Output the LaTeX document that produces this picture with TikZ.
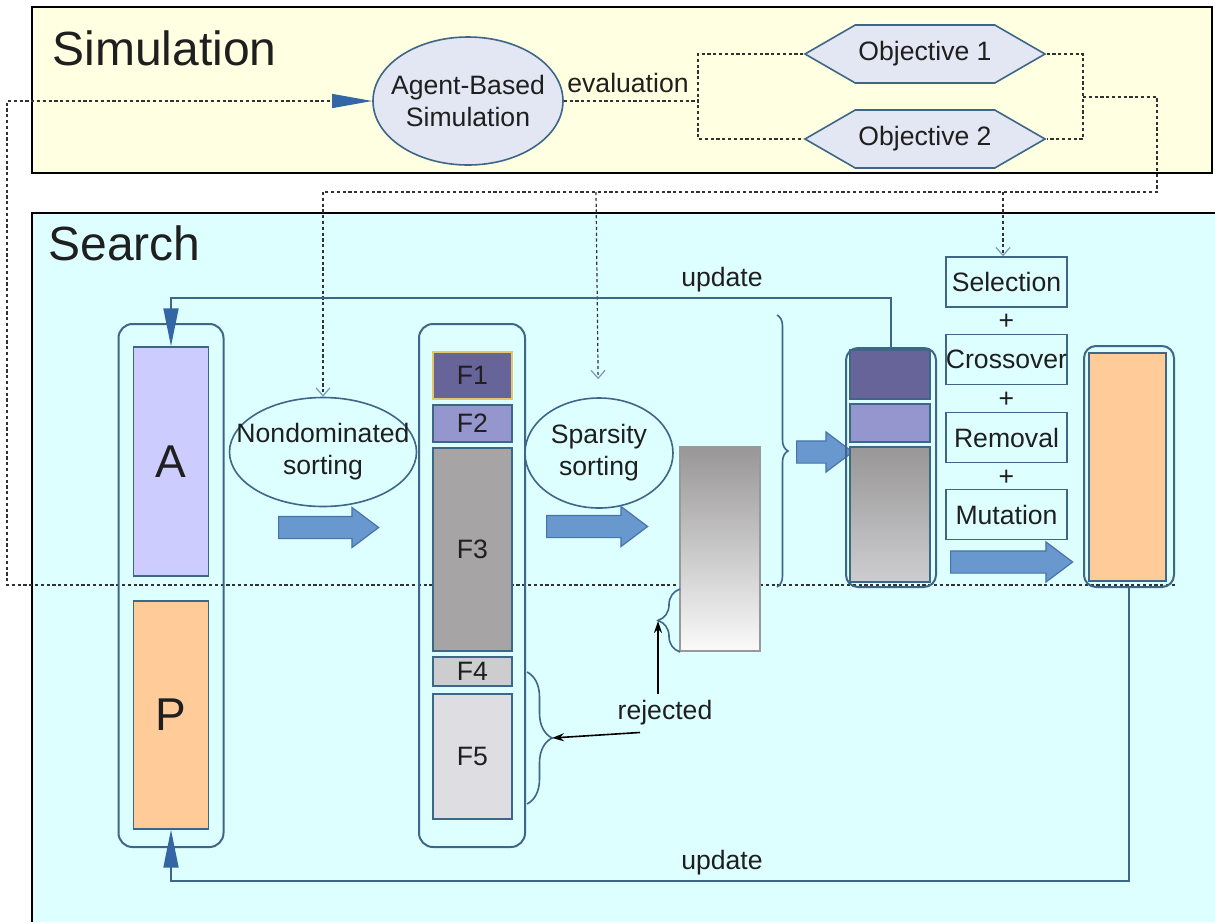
\documentclass[tikz,border=0pt]{standalone}
\usepackage{fontspec}
\setmainfont{Liberation Sans}
\usetikzlibrary{arrows.meta}
\usetikzlibrary{shapes.geometric}
\usetikzlibrary{shapes.symbols}
\usetikzlibrary{shapes.arrows}
\usetikzlibrary{decorations.pathreplacing}

\definecolor{simbg}{RGB}{255,255,225}
\definecolor{searchbg}{RGB}{222,255,255}
\definecolor{edge}{RGB}{62,102,135}
\definecolor{tipblue}{RGB}{52,101,164}
\definecolor{blockblue}{RGB}{104,152,206}
\definecolor{blockedge}{RGB}{70,115,170}
\definecolor{ovalfill}{RGB}{226,231,243}
\definecolor{frontA}{RGB}{102,100,153}
\definecolor{frontB}{RGB}{150,150,206}
\definecolor{frontC}{RGB}{166,164,164}
\definecolor{frontD}{RGB}{205,205,208}
\definecolor{frontE}{RGB}{222,222,226}
\definecolor{lavender}{RGB}{204,204,255}
\definecolor{peach}{RGB}{255,204,153}
\definecolor{goldedge}{RGB}{228,200,110}
\definecolor{gradtop}{RGB}{152,150,150}
\definecolor{gradbot}{RGB}{250,250,250}
\definecolor{dashgray}{RGB}{50,50,50}
\definecolor{barbcol}{RGB}{120,155,190}

\begin{document}
\begin{tikzpicture}[x=0.5pt,y=-0.5pt,
    every node/.style={font=\fontsize{13.3}{16}\selectfont, text=black!88},
    dims/.style 2 args={minimum width=#1*0.5pt, minimum height=#2*0.5pt},
    title/.style={font=\fontsize{24}{28}\selectfont, anchor=base west, inner sep=0pt},
    oval/.style={ellipse, draw=edge, fill=ovalfill, line width=0.8pt, inner sep=0pt, align=center},
    hexa/.style={signal, signal to=west and east, signal pointer angle=60, draw=edge, fill=ovalfill, line width=0.8pt, inner sep=0pt},
    sortoval/.style={ellipse, draw=edge, fill=searchbg, line width=0.8pt, inner sep=0pt, align=center},
    column/.style={rectangle, draw=edge, line width=1pt, rounded corners=7pt, inner sep=0pt},
    cell/.style={rectangle, draw=edge, line width=0.7pt, inner sep=0pt},
    letter/.style={font=\fontsize{23}{26}\selectfont},
    opbox/.style={rectangle, draw=edge, fill=searchbg, line width=0.7pt, inner sep=0pt, dims={121}{50}},
    blockarrow/.style={single arrow, draw=blockedge, fill=blockblue, line width=0.6pt, inner xsep=0pt, inner ysep=5.25pt, single arrow head extend=4.5pt, single arrow tip angle=74, anchor=tail},
    dashlink/.style={draw=dashgray, line width=0.6pt, dash pattern=on 1.6pt off 1.3pt},
    vtip/.style={-{Straight Barb[length=4pt, width=7pt, color=barbcol]}},
    bigtip/.style={-{Triangle[length=19pt, width=7.5pt, color=tipblue]}},
    updline/.style={draw=edge, line width=0.9pt},
    curly/.style={decorate, draw=edge, line width=0.8pt, decoration={brace, amplitude=#1}},
    rejarrow/.style={draw=black, line width=0.8pt, -{Stealth[length=6pt, width=4pt]}}]

    \useasboundingbox[fill=white] (0,0) rectangle (1215,922);
    \draw[line width=1pt, fill=simbg] (32,7) rectangle (1212,173);
    \fill[searchbg] (32,213) rectangle (1215,922);
    \draw[line width=1pt] (1215,213) -- (32,213) -- (32,922);
    \node[title] (simtitle) at (52,65) {Simulation};
    \node[title] (searchtitle) at (48,260) {Search};

    \node[oval, inner xsep=-5pt, dims={190}{128}] (agent) at (468,101) {Agent-Based\\Simulation};
    \node (evallabel) at (628,83) {evaluation};
    \node[hexa, dims={240}{58}] (obj1) at (925,54) {Objective 1};
    \node[hexa, dims={240}{58}] (obj2) at (925,139) {Objective 2};

    \coordinate (evalsplit) at (698,101);
    \coordinate (objjoin) at (1083,97);
    \coordinate (objturn) at (1157,97);
    \coordinate (busend) at (1157,192);
    \coordinate (busleft) at (323,192);
    \coordinate (busmid) at (596,192);
    \coordinate (busright) at (1003,192);
    \coordinate (feedstart) at (1175,585);
    \coordinate (feedcorner) at (7,101);
    \draw[dashlink] (agent.east) -- (evalsplit);
    \draw[dashlink] (obj1.west) -| (evalsplit) |- (obj2.west);
    \draw[dashlink] (obj1.east) -| (objjoin) |- (obj2.east);
    \draw[dashlink] (objjoin) -- (objturn) -- (busend) -- (busleft);
    \draw[dashlink, -{Triangle[length=20pt, width=7pt, color=tipblue]}] (feedstart) -| (feedcorner) -- (agent.west);

    \node[column, dims={105}{523}] (apcol) at (171,585.5) {};
    \node[cell, fill=lavender, dims={75}{229}, letter] (Abox) at (171,461.5) {A};
    \node[cell, fill=peach, dims={75}{228}, letter] (Pbox) at (171,715) {P};

    \node[sortoval, inner xsep=-10.5pt, dims={187}{109}] (nondom) at (323,452) {Nondominated\\sorting};
    \node[blockarrow, minimum height=50pt] (arrow1) at (278,527.5) {};

    \node[column, dims={106}{523}] (midcol) at (472,585.5) {};
    \node[cell, draw=goldedge, fill=frontA, dims={79}{47}] (F1) at (472.5,375.5) {F1};
    \node[cell, fill=frontB, dims={79}{37}] (F2) at (472.5,423.5) {F2};
    \node[cell, fill=frontC, dims={79}{203}] (F3) at (472.5,549.5) {F3};
    \node[cell, fill=frontD, dims={79}{29}] (F4) at (472.5,671.5) {F4};
    \node[cell, fill=frontE, dims={79}{125}] (F5) at (472.5,756.5) {F5};

    \node[sortoval, dims={148}{110}] (sparse) at (599,453) {Sparsity\\sorting};
    \node[blockarrow, minimum height=50.5pt] (arrow2) at (546,526.5) {};
    \node[cell, draw=gray!80, top color=gradtop, bottom color=gradbot, dims={80}{204}] (ranked) at (720,549) {};

    \draw[curly=5.5pt] (777,315) -- (777,587);
    \node[blockarrow, minimum height=28pt] (arrow3) at (796,452) {};

    \node[column, rounded corners=6pt, dims={90}{239}] (nextcol) at (891,467.5) {};
    \node[cell, fill=frontA, dims={80}{49}] (nextA) at (890,374.5) {};
    \node[cell, fill=frontB, dims={80}{38}] (nextB) at (890,423) {};
    \node[cell, top color=gradtop, bottom color=frontD, dims={80}{135}] (nextC) at (890,514.5) {};

    \node[opbox] (sel) at (1006.5,282) {Selection};
    \node (plus1) at (1006.5,322) {+};
    \node[opbox] (cross) at (1006.5,359.5) {Crossover};
    \node (plus2) at (1006.5,400) {+};
    \node[opbox] (remov) at (1006.5,437.5) {Removal};
    \node (plus3) at (1006.5,478) {+};
    \node[opbox] (mutat) at (1006.5,514.5) {Mutation};
    \node[blockarrow, minimum height=61pt] (arrow4) at (950,562) {};

    \node[column, rounded corners=6pt, dims={90}{241}] (newcol) at (1129,466.5) {};
    \node[cell, fill=peach, dims={77}{228}] (newP) at (1127.5,467) {};

    \draw[dashlink, vtip] (busleft) -- (nondom);
    \draw[dashlink, vtip, shorten >=9pt] (busmid) -- (sparse);
    \draw[dashlink, vtip] (busright) -- (busright |- sel.north);

    \coordinate (updtop) at (171,298);
    \coordinate (updbot) at (171,881);
    \draw[updline, bigtip] (nextcol.north) |- (updtop) -- (Abox.north);
    \draw[updline, bigtip] (newcol.south) |- (updbot) -- (Pbox.south);
    \node (updlabeltop) at (722,280) {update};
    \node (updlabelbot) at (722,863) {update};

    \draw[curly=12.5pt] (527,672) -- (527,804);
    \draw[curly=11pt] (680,652) -- (680,589);
    \coordinate (rejtip) at (552,738);
    \coordinate (smalltip) at (658,621);
    \node (rej) at (665,713) {rejected};
    \draw[rejarrow] (rej.north -| smalltip) -- (smalltip);
    \draw[rejarrow] ([xshift=-12.5pt]rej.south) -- (rejtip);
\end{tikzpicture}
\end{document}
